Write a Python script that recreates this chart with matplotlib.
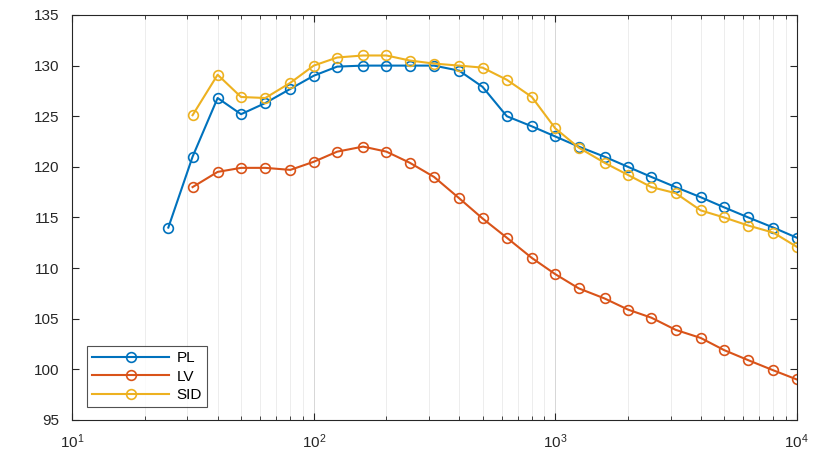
import matplotlib
matplotlib.use("Agg")
import matplotlib.pyplot as plt
from matplotlib.ticker import LogLocator, NullFormatter
import numpy as np

plt.rcParams['font.family'] = ['Liberation Sans', 'DejaVu Sans']

# third-octave band centre frequencies
freq = [25, 31.5, 40, 50, 63, 80, 100, 125, 160, 200, 250, 315, 400, 500,
        630, 800, 1000, 1250, 1600, 2000, 2500, 3150, 4000, 5000, 6300, 8000, 10000]

pl = [114.0, 121.0, 126.8, 125.2, 126.3, 127.7, 129.0, 129.9, 130.0, 130.0, 130.0, 130.0, 129.5, 127.9,
      125.0, 124.0, 123.0, 122.0, 121.0, 120.0, 119.0, 118.0, 117.0, 116.0, 115.0, 114.0, 113.0]
lv = [None, 118.0, 119.5, 119.9, 119.9, 119.7, 120.5, 121.5, 122.0, 121.5, 120.4, 119.0, 116.9, 114.9,
      113.0, 111.0, 109.4, 108.0, 107.0, 105.9, 105.1, 103.9, 103.1, 101.9, 100.9, 99.9, 99.0]
sid = [None, 125.1, 129.1, 126.9, 126.8, 128.3, 130.0, 130.8, 131.0, 131.0, 130.5, 130.2, 130.0, 129.8,
       128.6, 126.9, 123.8, 121.9, 120.4, 119.2, 118.0, 117.4, 115.7, 115.0, 114.2, 113.5, 112.1]

series = [("PL", pl, "#0072BD"), ("LV", lv, "#D95319"), ("SID", sid, "#EDB120")]

fig = plt.figure(figsize=(8.3, 4.54), dpi=100)
ax = fig.add_axes([0.087, 0.075, 0.873, 0.892])

for name, vals, col in series:
    x = [f for f, v in zip(freq, vals) if v is not None]
    y = [v for v in vals if v is not None]
    ax.plot(x, y, '-o', color=col, lw=1.5, markersize=7, markerfacecolor='none',
            markeredgewidth=1.2, label=name)

ax.set_xscale('log')
ax.set_xlim(10, 10000)
ax.set_ylim(95, 135)
ax.set_yticks(np.arange(95, 136, 5))
ax.xaxis.set_minor_locator(LogLocator(base=10, subs=np.arange(2, 10)))
ax.xaxis.set_minor_formatter(NullFormatter())

ax.grid(True, axis='x', which='major', color='#d0d0d0', lw=0.6)
ax.grid(True, axis='x', which='minor', color='#e6e6e6', lw=0.5)

ax.tick_params(direction='in', which='both', top=True, right=True,
               colors='#262626', labelsize=11)
ax.tick_params(which='major', length=5)
ax.tick_params(which='minor', length=3)
ax.tick_params(axis='y', pad=9)
ax.tick_params(axis='x', pad=9)
for s in ax.spines.values():
    s.set_color('#262626')
    s.set_linewidth(0.8)

leg = ax.legend(loc='lower left', bbox_to_anchor=(0.01, 0.012), fontsize=11,
                frameon=True, fancybox=False, edgecolor='#262626',
                handlelength=5.0, handletextpad=0.5, borderpad=0.35, labelspacing=0.3)
leg.get_frame().set_linewidth(0.8)

plt.savefig("out.png", dpi=100)
